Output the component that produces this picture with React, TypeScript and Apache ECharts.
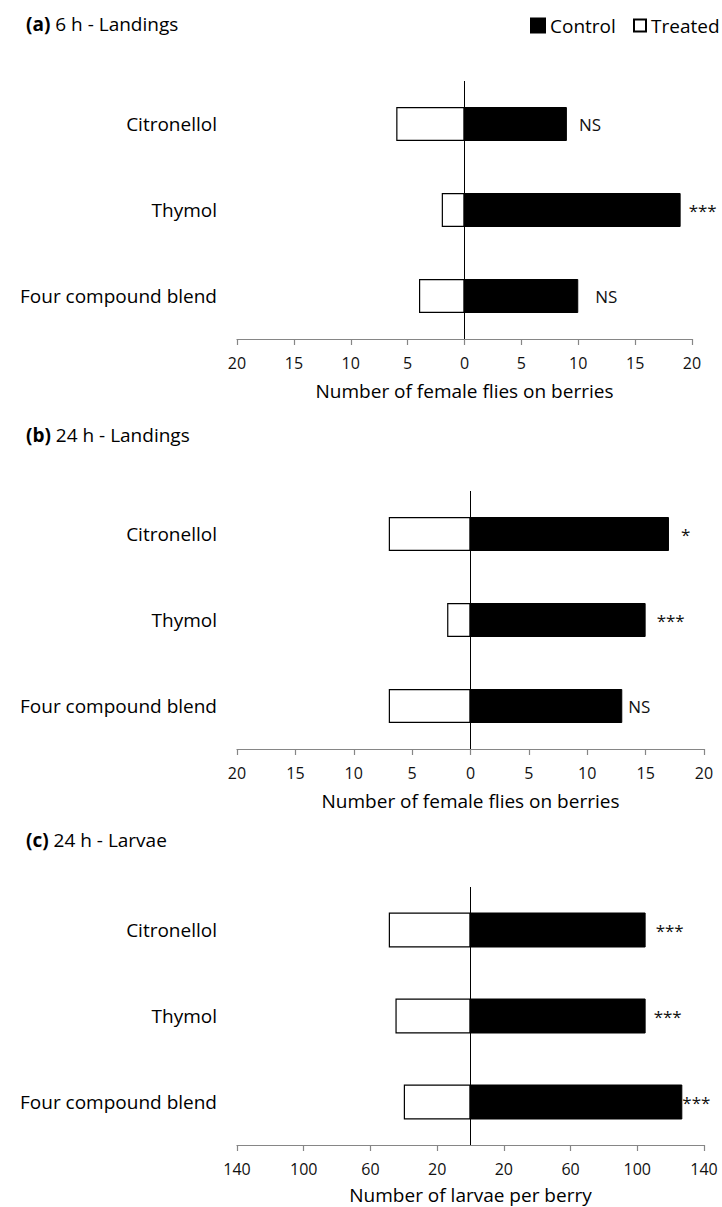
import React, { useEffect, useRef } from 'react';
import * as echarts from 'echarts';

const categories = ['Citronellol', 'Thymol', 'Four compound blend'];

const controlA = [9, 19, 10];
const treatedA = [6, 2, 4];
const sigA = ['NS', '***', 'NS'];

const controlB = [17, 15, 13];
const treatedB = [7, 2, 7];
const sigB = ['*', '***', 'NS'];

const controlC = [105, 105, 127];
const treatedC = [49, 45, 40];
const sigC = ['***', '***', '***'];

const panelTitles = ['(a)|6 h - Landings', '(b)|24 h - Landings', '(c)|24 h - Larvae'];
const axisTitles = ['Number of female flies on berries', 'Number of female flies on berries', 'Number of larvae per berry'];
const axisRanges = [
  { min: -20, max: 20, interval: 5 },
  { min: -20, max: 20, interval: 5 },
  { min: -140, max: 140, interval: 40 },
];

const FONT = 'Open Sans';

export default function App() {
  const ref = useRef<HTMLDivElement>(null);
  useEffect(() => {
    if (!ref.current) return;
    const chart = echarts.init(ref.current, undefined, { renderer: 'svg' });

    const panels = [
      { control: controlA, treated: treatedA, sig: sigA },
      { control: controlB, treated: treatedB, sig: sigB },
      { control: controlC, treated: treatedC, sig: sigC },
    ];
    // layout (cosmetic)
    const grids = [
      { left: 237, width: 455, top: 81, height: 258 },
      { left: 237, width: 467, top: 491, height: 258 },
      { left: 237, width: 467, top: 887, height: 258 },
    ];
    const titleTops = [14, 425, 830];
    const nameGaps = [42, 42, 40];
    const labelGaps = [
      [12, 8, 17],
      [12, 11, 6],
      [10, 8, 0],
    ];
    const barWidths = [34, 34, 35];

    const series: any[] = [];
    panels.forEach((p, i) => {
      series.push({
        name: 'Control',
        type: 'bar',
        xAxisIndex: i,
        yAxisIndex: i,
        barWidth: barWidths[i],
        barGap: '-100%',
        itemStyle: { color: '#000', borderColor: '#000', borderWidth: 1 },
        data: p.control.map((v, j) => ({
          value: v,
          label: {
            show: true,
            position: 'right',
            distance: labelGaps[i][j],
            formatter: p.sig[j],
            color: '#111',
            fontSize: 17,
            fontFamily: FONT,
          },
        })),
        markLine: {
          silent: true,
          symbol: 'none',
          label: { show: false },
          lineStyle: { color: '#000', width: 1, type: 'solid' },
          data: [{ xAxis: 0 }],
        },
        z: 3,
      });
      series.push({
        name: 'Treated',
        type: 'bar',
        xAxisIndex: i,
        yAxisIndex: i,
        barWidth: barWidths[i],
        barGap: '-100%',
        itemStyle: { color: '#fff', borderColor: '#000', borderWidth: 1.2 },
        data: p.treated.map((v) => -v),
        z: 2,
      });
    });

    const legendText = { fontSize: 19, fontFamily: FONT, color: '#000' };

    const option: any = {
      animation: false,
      backgroundColor: '#fff',
      textStyle: { fontFamily: FONT },
      title: panelTitles.map((t, i) => {
        const [b, rest] = t.split('|');
        return {
          left: 26,
          top: titleTops[i],
          padding: 0,
          text: `{b|${b}}{n| ${rest}}`,
          textStyle: {
            fontWeight: 'normal',
            rich: {
              b: { fontWeight: 'bold', fontSize: 19, lineHeight: 20, fontFamily: FONT, color: '#000' },
              n: { fontWeight: 'normal', fontSize: 19, lineHeight: 20, fontFamily: FONT, color: '#000' },
            },
          },
        };
      }),
      legend: [
        {
          left: 530,
          top: 16,
          padding: 0,
          itemWidth: 14,
          itemHeight: 14,
          itemGap: 5,
          icon: 'rect',
          data: ['Control'],
          textStyle: legendText,
        },
        {
          left: 633,
          top: 16,
          padding: 0,
          itemWidth: 12,
          itemHeight: 12,
          icon: 'rect',
          data: ['Treated'],
          textStyle: legendText,
        },
      ],
      grid: grids.map((g) => ({ ...g, containLabel: false })),
      xAxis: axisRanges.map((r, i) => ({
        type: 'value',
        gridIndex: i,
        min: r.min,
        max: r.max,
        interval: r.interval,
        splitLine: { show: false },
        axisLine: { show: true, onZero: false, lineStyle: { color: '#868686', width: 1.2 } },
        axisTick: { show: true, length: 6, lineStyle: { color: '#868686', width: 1.2 } },
        axisLabel: {
          margin: 16,
          fontSize: 16,
          fontFamily: FONT,
          color: '#111',
          formatter: (v: number) => String(Math.abs(v)),
        },
        name: axisTitles[i],
        nameLocation: 'middle',
        nameGap: nameGaps[i],
        nameTextStyle: { fontSize: 19, fontFamily: FONT, color: '#000' },
      })),
      yAxis: axisRanges.map((_, i) => ({
        type: 'category',
        gridIndex: i,
        inverse: true,
        data: categories,
        axisLine: { show: false },
        axisTick: { show: false },
        axisLabel: { margin: 20, fontSize: 19, fontFamily: FONT, color: '#000' },
      })),
      series,
    };
    chart.setOption(option);
    return () => chart.dispose();
  }, []);
  return (
    <div
      ref={ref}
      style={{ position: 'absolute', left: 0, top: 0, width: 722, height: 1207, background: '#fff' }}
    />
  );
}
